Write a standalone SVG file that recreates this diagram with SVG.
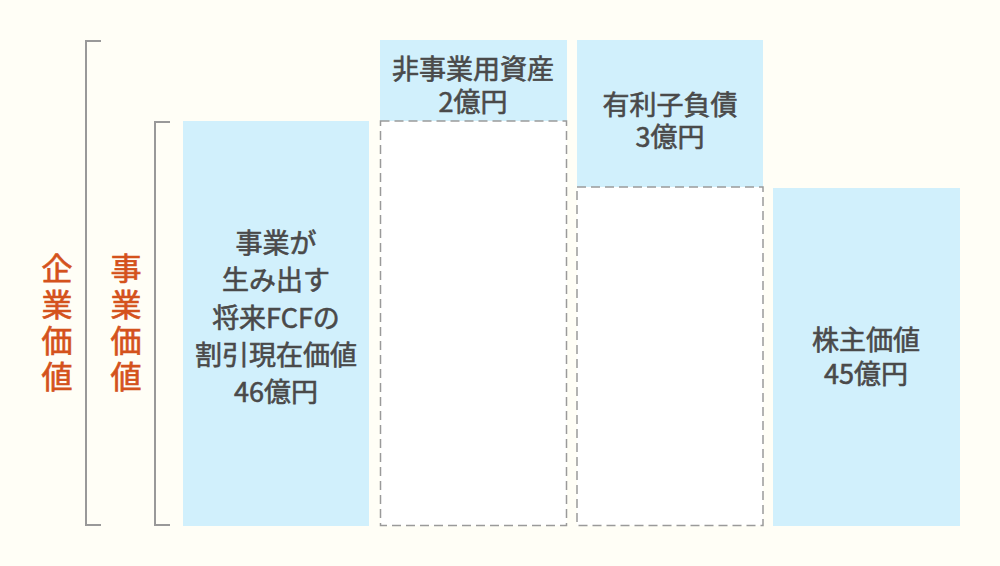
<svg xmlns="http://www.w3.org/2000/svg" width="1000" height="566" viewBox="0 0 1000 566">
<style>
.bg{fill:#fffef6}
.blue{fill:#d1f0fc}
.dash{fill:#ffffff;stroke:#9a9a9a;stroke-width:1.5;stroke-dasharray:9 5}
.br{fill:none;stroke:#999999;stroke-width:2}
.t{font-family:"Noto Sans CJK JP","Noto Sans",sans-serif;font-size:27px;font-weight:400;fill:#4a4a4a;stroke:#4a4a4a;stroke-width:0.6;text-anchor:middle;dominant-baseline:central}
.o{font-family:"Noto Sans CJK JP","Noto Sans",sans-serif;font-size:31px;font-weight:400;fill:#d4521c;stroke:#d4521c;stroke-width:0.7;writing-mode:vertical-rl;letter-spacing:5px}
</style>
<rect class="bg" x="0" y="0" width="1000" height="566"/>
<g id="connectors">
<path class="br" d="M101,41 H86 V525 H101"/>
<path class="br" d="M170,122 H155 V525 H170"/>
</g>
<g id="label-kigyou">
<text class="o" x="57" y="253">企業価値</text>
</g>
<g id="label-jigyou">
<text class="o" x="126" y="253">事業価値</text>
</g>
<g id="node-business">
<rect class="blue" x="183" y="121" width="186" height="405"/>
<text class="t" x="276" y="241"><tspan x="276" y="241">事業が</tspan><tspan x="276" y="278">生み出す</tspan><tspan x="276" y="316">将来FCFの</tspan><tspan x="276" y="353">割引現在価値</tspan><tspan x="276" y="390">46億円</tspan></text>
</g>
<g id="node-nonbusiness">
<rect class="blue" x="380" y="40" width="187" height="81"/>
<rect class="dash" x="380.5" y="121" width="186" height="404.5"/>
<text class="t" x="473" y="67"><tspan x="473" y="67">非事業用資産</tspan><tspan x="473" y="100">2億円</tspan></text>
</g>
<g id="node-debt">
<rect class="blue" x="577" y="40" width="186" height="147"/>
<rect class="dash" x="577" y="187" width="186" height="338.5"/>
<text class="t" x="670" y="103"><tspan x="670" y="103">有利子負債</tspan><tspan x="670" y="135">3億円</tspan></text>
</g>
<g id="node-equity">
<rect class="blue" x="773" y="188" width="187" height="338"/>
<text class="t" x="866" y="338"><tspan x="866" y="338">株主価値</tspan><tspan x="866" y="372">45億円</tspan></text>
</g>
</svg>
